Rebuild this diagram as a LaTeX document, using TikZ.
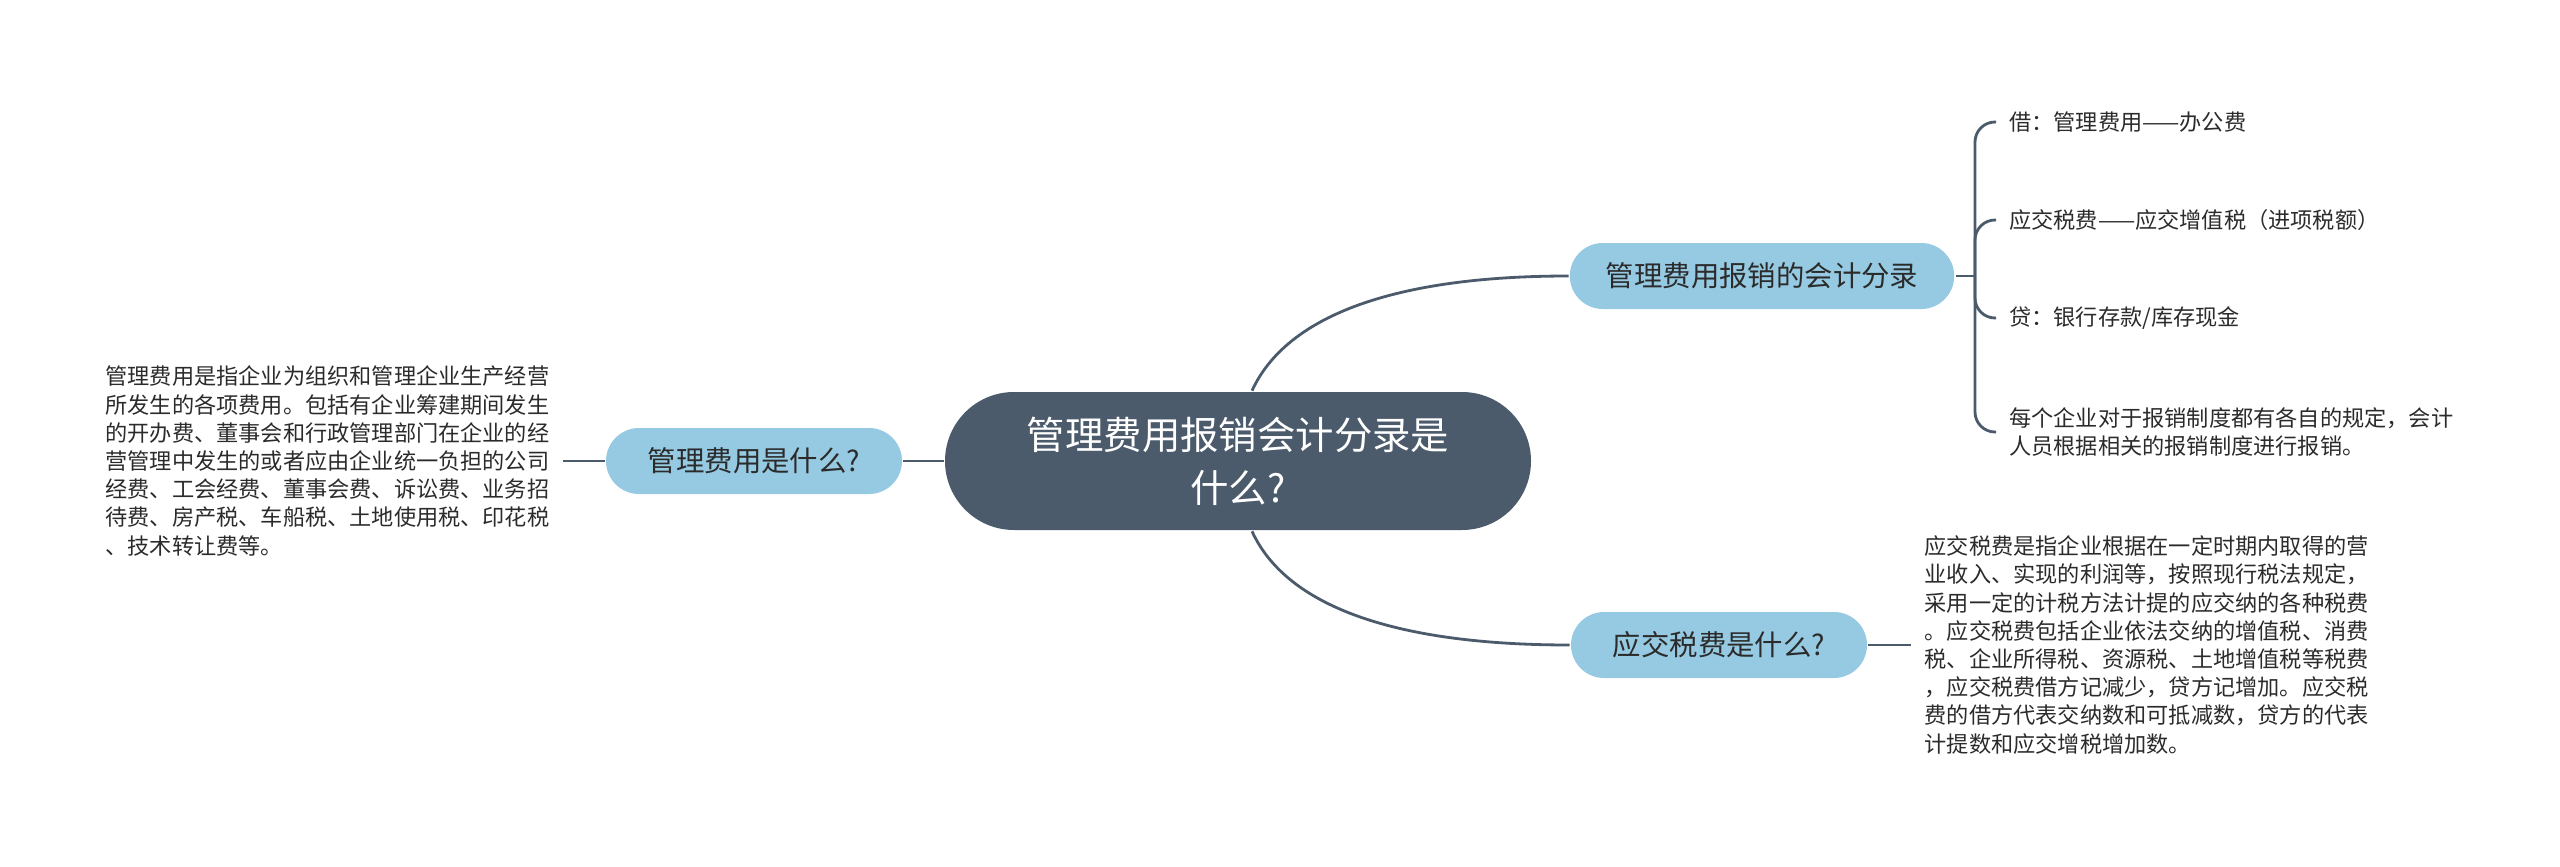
\documentclass[tikz,border=0pt]{standalone}
\usepackage{fontspec}
\setmainfont{Noto Sans CJK SC}
\usetikzlibrary{positioning}
\definecolor{rootfill}{HTML}{4B5B6B}
\definecolor{branchfill}{HTML}{96CAE2}
\definecolor{linkcol}{HTML}{4B5B6B}
\definecolor{textcol}{HTML}{2B2B2B}

\begin{document}
\begin{tikzpicture}[x=0.5pt, y=-0.5pt, on grid, line width=1.3pt,
	root/.style={fill=rootfill, text=white, rounded corners=34.5pt, minimum width=293pt, minimum height=69pt, align=center, font=\fontsize{19.2}{26.5}\selectfont},
	branch/.style={fill=branchfill, text=textcol, rounded corners=16.5pt, minimum height=33pt, minimum width=148pt, inner xsep=18pt, font=\fontsize{14.2}{17}\selectfont},
	leaf/.style={on grid=false, text=textcol, inner xsep=6pt, inner ysep=2pt, align=left, font=\fontsize{11.1}{14.1}\selectfont},
	link/.style={draw=linkcol, line width=1.4pt}]
	\useasboundingbox (0,0) rectangle (2560,867);
	\node[root] (root) at (1238,461) {管理费用报销会计分录是\\什么?};
	\node[branch] (whatis) [left=242pt of root] {管理费用是什么?};
	\node[branch] (entry) [above right=92.5pt and 262pt of root] {管理费用报销的会计分录};
	\node[branch] (tax) [below right=92pt and 240.5pt of root] {应交税费是什么?};
	\node[leaf] (costtext) [left=21pt of whatis] {管理费用是指企业为组织和管理企业生产经营\\所发生的各项费用。包括有企业筹建期间发生\\的开办费、董事会和行政管理部门在企业的经\\营管理中发生的或者应由企业统一负担的公司\\经费、工会经费、董事会费、诉讼费、业务招\\待费、房产税、车船税、土地使用税、印花税\\、技术转让费等。};
	\node[leaf] (taxtext) [right=21.5pt of tax] {应交税费是指企业根据在一定时期内取得的营\\业收入、实现的利润等，按照现行税法规定，\\采用一定的计税方法计提的应交纳的各种税费\\。应交税费包括企业依法交纳的增值税、消费\\税、企业所得税、资源税、土地增值税等税费\\，应交税费借方记减少，贷方记增加。应交税\\费的借方代表交纳数和可抵减数，贷方的代表\\计提数和应交增税增加数。};
	\coordinate (fork) at (1975,276);
	\node[leaf, anchor=west] (debit) at (1996,122) {借：管理费用——办公费};
	\node[leaf, anchor=west] (vat) at (1996,220) {应交税费——应交增值税（进项税额）};
	\node[leaf, anchor=west] (credit) at (1996,318) {贷：银行存款/库存现金};
	\node[leaf, anchor=west] (rule) at (1996,432) {每个企业对于报销制度都有各自的规定，会计\\人员根据相关的报销制度进行报销。};
	\draw[link] (root.west) -- (whatis.east);
	\draw[link] (costtext.east) -- (whatis.west);
	\draw[link] ([xshift=7pt]root.north) .. controls +(33,-72) and +(-181,0) .. (entry.west);
	\draw[link] ([xshift=7pt]root.south) .. controls +(33,72) and +(-182,0) .. (tax.west);
	\draw[link] (tax.east) -- (taxtext.west);
	\draw[link] (entry.east) -- (fork);
	\foreach \item in {debit,vat,credit,rule}
		\draw[link, rounded corners=10pt] (fork) |- (\item.west);
\end{tikzpicture}
\end{document}
